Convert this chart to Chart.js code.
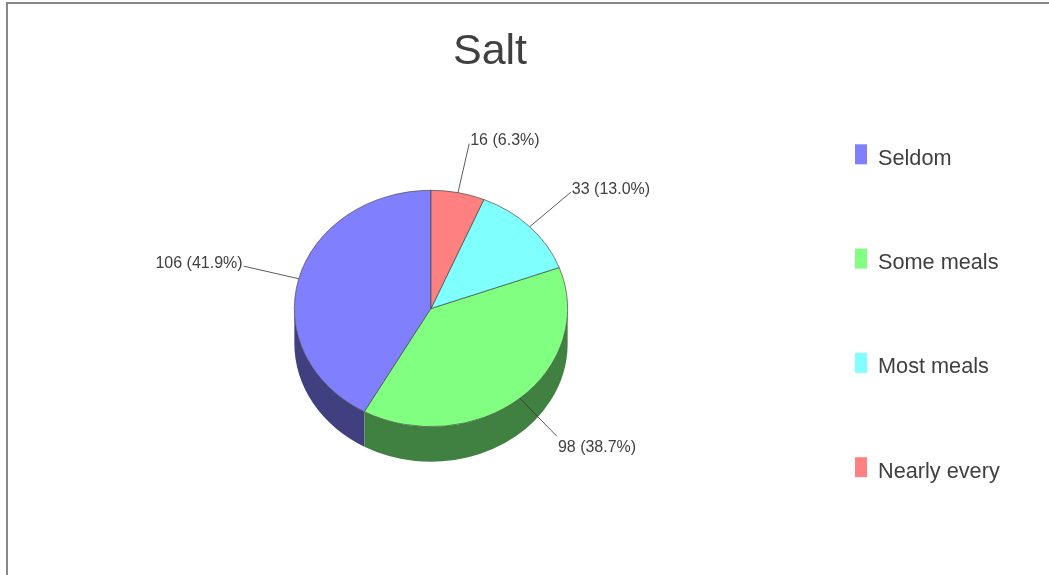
<!DOCTYPE html>
<html>
<head>
<meta charset="utf-8">
<script src="https://cdn.jsdelivr.net/npm/chart.js@4"></script>
<style>
  body { margin: 0; background: #fff; overflow: hidden; }
  #frame { position: absolute; left: 6px; top: 2px; width: 1200px; height: 800px; border-left: 2px solid #888; border-top: 2px solid #888; }
  #wrap { position: absolute; left: 0; top: 0; width: 1049px; height: 575px; }
</style>
</head>
<body>
<div id="frame"></div>
<div id="wrap"><canvas id="saltChart" width="1049" height="575"></canvas></div>
<script>
const chartTitle = 'Salt';
const categories = ['Seldom', 'Some meals', 'Most meals', 'Nearly every'];
const counts = [106, 98, 33, 16];
const faceColors = ['#8080ff', '#80ff80', '#80ffff', '#ff8080'];
const sideColors = ['#404080', '#408040', '#408080', '#804040'];

const FONT = "'Liberation Sans', Arial, sans-serif";
const TEXT_COLOR = '#404040';
const TILT = 0.865;   // vertical squash of the pie top
const DEPTH = 35;     // height of the rim

// 3D look: rim under the pie, squashed + mirrored top face (so slices run counter-clockwise)
const pie3d = {
  id: 'pie3d',
  beforeDatasetsDraw(chart) {
    const ctx = chart.ctx;
    const arcs = chart.getDatasetMeta(0).data;
    const cx = arcs[0].x, cy = arcs[0].y;
    const rx = arcs[0].outerRadius, ry = rx * TILT;

    arcs.forEach((arc, i) => {
      // screen angle after mirroring; only the front half of the rim is visible
      const t0 = Math.max(Math.PI - arc.endAngle, 0);
      const t1 = Math.min(Math.PI - arc.startAngle, Math.PI);
      if (t1 <= t0) return;
      ctx.beginPath();
      ctx.ellipse(cx, cy, rx, ry, 0, t0, t1, false);
      ctx.ellipse(cx, cy + DEPTH, rx, ry, 0, t1, t0, true);
      ctx.closePath();
      ctx.fillStyle = sideColors[i];
      ctx.fill();
    });

    ctx.save();
    ctx.translate(cx, cy);
    ctx.scale(-1, TILT);
    ctx.translate(-cx, -cy);
  },
  afterDatasetsDraw(chart) {
    chart.ctx.restore();
  },
  afterDraw(chart) {
    const ctx = chart.ctx;
    const arcs = chart.getDatasetMeta(0).data;
    const cx = arcs[0].x, cy = arcs[0].y;
    const rx = arcs[0].outerRadius, ry = rx * TILT;
    const total = counts.reduce((a, b) => a + b, 0);

    // title
    ctx.save();
    ctx.fillStyle = TEXT_COLOR;
    ctx.font = '43px ' + FONT;
    ctx.textAlign = 'center';
    ctx.textBaseline = 'alphabetic';
    ctx.fillText(chartTitle, 490, 64);

    // value labels with leader lines
    ctx.font = '16px ' + FONT;
    ctx.textBaseline = 'middle';
    arcs.forEach((arc, i) => {
      const mid = (arc.startAngle + arc.endAngle) / 2;
      const ux = -Math.cos(mid), uy = Math.sin(mid);
      const x0 = cx + rx * ux, y0 = cy + ry * uy;
      const x1 = cx + (rx + 57) * ux, y1 = cy + (ry + 50) * uy;
      ctx.beginPath();
      ctx.moveTo(x0, y0);
      ctx.lineTo(x1, y1);
      ctx.strokeStyle = '#333';
      ctx.lineWidth = 0.8;
      ctx.stroke();
      const pct = (counts[i] / total * 100).toFixed(1);
      const text = counts[i] + ' (' + pct + '%)';
      const ty = uy < 0 ? y1 - 3 : y1 + 11;
      ctx.fillStyle = TEXT_COLOR;
      if (ux >= 0) {
        ctx.textAlign = 'left';
        ctx.fillText(text, x1 + 1, ty);
      } else {
        ctx.textAlign = 'right';
        ctx.fillText(text, x1 - 1, ty);
      }
    });

    // legend
    ctx.font = '21.7px ' + FONT;
    ctx.textAlign = 'left';
    ctx.textBaseline = 'alphabetic';
    categories.forEach((name, i) => {
      const top = 144.3 + i * 104.3;
      ctx.fillStyle = faceColors[i];
      ctx.fillRect(855, top, 12, 20);
      ctx.fillStyle = TEXT_COLOR;
      ctx.fillText(name, 878, top + 20.5);
    });
    ctx.restore();
  }
};

const ctx = document.getElementById('saltChart').getContext('2d');
new Chart(ctx, {
  type: 'pie',
  data: {
    labels: categories,
    datasets: [{
      data: counts,
      backgroundColor: faceColors,
      borderColor: '#404040',
      borderWidth: 0.7,
      clip: false
    }]
  },
  options: {
    responsive: false,
    animation: false,
    layout: {
      padding: { left: 294, right: 481, top: 171.5, bottom: 129.5 }
    },
    plugins: {
      legend: { display: false },
      title: { display: false },
      tooltip: { enabled: false }
    }
  },
  plugins: [pie3d]
});
</script>
</body>
</html>
